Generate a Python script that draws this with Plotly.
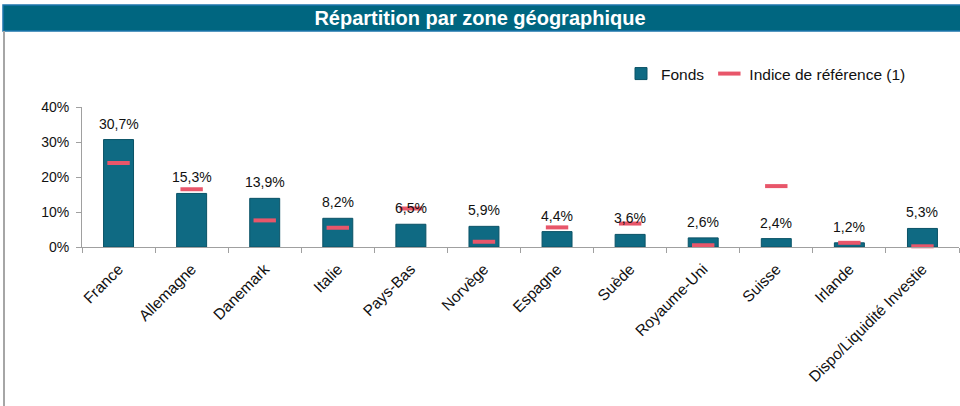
import plotly.graph_objects as go

categories = ["France", "Allemagne", "Danemark", "Italie", "Pays-Bas", "Norvège",
              "Espagne", "Suède", "Royaume-Uni", "Suisse", "Irlande",
              "Dispo/Liquidité Investie"]
fonds = [30.7, 15.3, 13.9, 8.2, 6.5, 5.9, 4.4, 3.6, 2.6, 2.4, 1.2, 5.3]
indice = [24.0, 16.5, 7.6, 5.5, 11.0, 1.5, 5.6, 6.7, 0.5, 17.4, 1.2, 0.2]
y_ticks = [0, 10, 20, 30, 40]
y_tick_labels = ["0%", "10%", "20%", "30%", "40%"]

FONT = "Arial, Liberation Sans, sans-serif"
W, H = 960, 406
ML, MR, MT, MB = 82, 1, 107, 159
PW = W - ML - MR
PH = H - MT - MB


def px_x(p):
    return (p - ML) / PW


def px_y(p):
    return (H - MB - p) / PH


fig = go.Figure()
fig.add_trace(go.Bar(
    x=categories, y=fonds, name="Fonds",
    marker=dict(color="#0F6A83", line=dict(color="#0A5266", width=1)),
    width=0.41,
))
fig.add_trace(go.Scatter(
    x=categories, y=indice, name="Indice de référence (1)", mode="markers",
    marker=dict(symbol="line-ew", size=16, color="#E8566A",
                line=dict(color="#E8566A", width=4)),
    cliponaxis=False,
))

for c, v in zip(categories, fonds):
    fig.add_annotation(x=c, y=v, text=f"{v:.1f}".replace(".", ",") + "%",
                       showarrow=False, yshift=16, xanchor="center", yanchor="middle",
                       font=dict(family=FONT, size=14, color="#111111"))

# title bar and left frame line
fig.add_shape(type="rect", xref="paper", yref="paper",
              x0=px_x(3), x1=px_x(961), y0=px_y(31), y1=px_y(5),
              fillcolor="#006680", line=dict(color="#1C76AC", width=1.5), layer="above")
fig.add_shape(type="line", xref="paper", yref="paper",
              x0=px_x(4), x1=px_x(4), y0=px_y(31), y1=px_y(407),
              line=dict(color="#A6A6A6", width=2))

fig.update_layout(
    width=W, height=H,
    margin=dict(l=ML, r=MR, t=MT, b=MB),
    paper_bgcolor="white", plot_bgcolor="white",
    font=dict(family=FONT, size=14, color="#111111"),
    title=dict(text="<b>Répartition par zone géographique</b>",
               font=dict(family=FONT, size=20, color="white"),
               x=0.5, xref="container", xanchor="center",
               y=1 - 18 / H, yref="container", yanchor="middle"),
    showlegend=True,
    legend=dict(orientation="h", x=px_x(621), y=px_y(74), xanchor="left",
                yanchor="middle", font=dict(family=FONT, size=15.5, color="#111111"),
                itemwidth=30, bgcolor="rgba(0,0,0,0)", tracegroupgap=0),
    bargap=0.59,
)
fig.update_yaxes(range=[0, 40], tickvals=y_ticks, ticktext=y_tick_labels,
                 showgrid=False, zeroline=False, showline=True,
                 linecolor="#A0A0A0", linewidth=1, ticks="outside",
                 tickcolor="#A0A0A0", ticklen=5, ticklabelstandoff=4,
                 tickfont=dict(family=FONT, size=14, color="#111111"))
fig.update_xaxes(showgrid=False, showline=True, linecolor="#A0A0A0", linewidth=1,
                 ticks="outside", tickson="boundaries", tickcolor="#A0A0A0", ticklen=5,
                 tickangle=-45, range=[-0.5, 11.5], ticklabelstandoff=6,
                 tickfont=dict(family=FONT, size=15.5, color="#111111"))

fig.write_html("out.html", config={"displayModeBar": False},
               post_script="document.body.style.margin='0';")
